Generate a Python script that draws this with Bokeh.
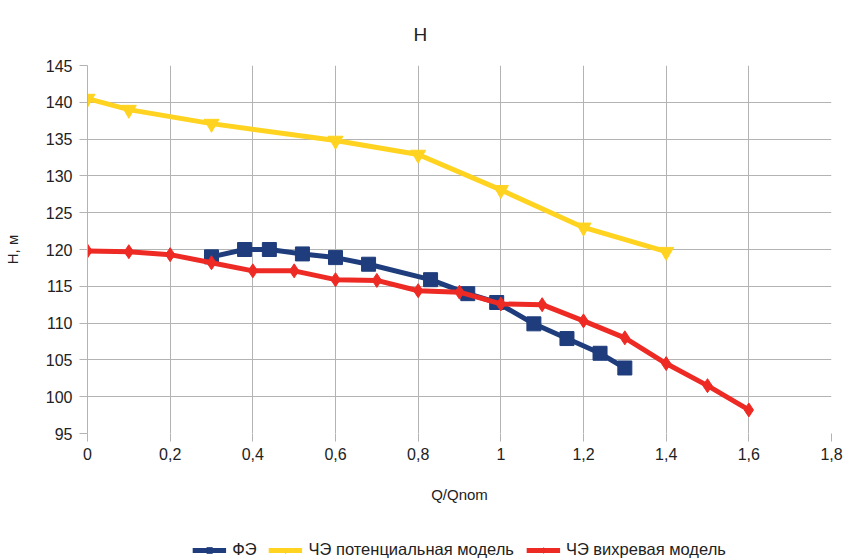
from bokeh.plotting import figure
from bokeh.layouts import column
from bokeh.models import Range1d, FixedTicker, Legend, LegendItem
from bokeh.embed import file_html
from bokeh.resources import INLINE

# Data
fe_q = [0.30, 0.38, 0.44, 0.52, 0.60, 0.68, 0.83, 0.92, 0.99, 1.08, 1.16, 1.24, 1.30]
fe_h = [119.0, 120.0, 120.0, 119.4, 118.9, 118.0, 115.9, 114.0, 112.8, 109.9, 107.9, 105.9, 103.9]

pot_q = [0.0, 0.1, 0.3, 0.6, 0.8, 1.0, 1.2, 1.4]
pot_h = [140.5, 139.0, 137.1, 134.8, 132.9, 128.1, 123.0, 119.7]

vor_q = [0.0, 0.1, 0.2, 0.3, 0.4, 0.5, 0.6, 0.7, 0.8, 0.9, 1.0, 1.1, 1.2, 1.3, 1.4, 1.5, 1.6]
vor_h = [119.8, 119.7, 119.3, 118.2, 117.1, 117.1, 115.9, 115.8, 114.4, 114.2, 112.6, 112.5, 110.3, 108.0, 104.5, 101.5, 98.2]

x_ticks = [0, 0.2, 0.4, 0.6, 0.8, 1.0, 1.2, 1.4, 1.6, 1.8]
x_tick_labels = ["0", "0,2", "0,4", "0,6", "0,8", "1", "1,2", "1,4", "1,6", "1,8"]
y_ticks = [95, 100, 105, 110, 115, 120, 125, 130, 135, 140, 145]

labels = ["ФЭ", "ЧЭ потенциальная модель", "ЧЭ вихревая модель"]
colors = ["#1f3d7c", "#ffd320", "#ee2a24"]
markers = ["square", "inverted_triangle", "diamond"]
msizes = [14, 15, 14]

FONT = "Liberation Sans"
TXT = "#222222"
GRID = "#b3b3b3"

p = figure(width=850, height=510, frame_width=744, frame_height=368,
           output_backend="svg", toolbar_location=None,
           x_range=Range1d(0, 1.8), y_range=Range1d(95, 145),
           min_border_left=87, min_border_right=19, min_border_top=65, min_border_bottom=77)
p.outline_line_color = None
p.background_fill_color = "white"

p.title.text = "H"
p.title.align = "left"
p.title.offset = 326
p.title.standoff = 42
p.title.text_font = FONT
p.title.text_font_size = "19px"
p.title.text_font_style = "normal"
p.title.text_color = TXT

p.xaxis.ticker = FixedTicker(ticks=x_ticks)
p.xaxis.major_label_overrides = {t: l for t, l in zip(x_ticks, x_tick_labels)}
p.yaxis.ticker = FixedTicker(ticks=y_ticks)
p.xgrid.ticker = FixedTicker(ticks=x_ticks)
p.ygrid.ticker = FixedTicker(ticks=y_ticks)

for ax in (p.xaxis[0], p.yaxis[0]):
    ax.axis_line_color = GRID
    ax.major_tick_line_color = GRID
    ax.major_tick_out = 8
    ax.major_tick_in = 0
    ax.minor_tick_line_color = None
    ax.major_label_text_font = FONT
    ax.major_label_text_font_size = "16px"
    ax.major_label_text_color = TXT
    ax.axis_label_text_font = FONT
    ax.axis_label_text_font_size = "15px"
    ax.axis_label_text_font_style = "normal"
    ax.axis_label_text_color = TXT

p.xaxis.axis_line_color = None
p.xaxis.major_label_standoff = 6
p.xaxis.axis_label = "Q/Qnom"
p.xaxis.axis_label_standoff = 23
p.yaxis.axis_label = "H, м"
p.yaxis.major_label_standoff = 7
p.yaxis.axis_label_standoff = 22

p.xgrid.grid_line_color = GRID
p.ygrid.grid_line_color = GRID

series = [(fe_q, fe_h), (pot_q, pot_h), (vor_q, vor_h)]
for (xs, ys), c, m, s in zip(series, colors, markers, msizes):
    p.line(xs, ys, line_color=c, line_width=5)
    p.scatter(xs, ys, marker=m, size=s, fill_color=c, line_color=c)

# Legend strip below the chart (series drawn outside its visible range, only their legend glyphs show)
pl = figure(width=850, height=50, output_backend="svg", toolbar_location=None,
            title=None, x_axis_location=None, y_axis_location=None,
            x_range=Range1d(0, 1), y_range=Range1d(0, 1), min_border=0)
pl.outline_line_color = None
pl.grid.visible = False
pl.background_fill_color = "white"

items = []
for (xs, ys), lab, c, m, s in zip(series, labels, colors, markers, msizes):
    rl = pl.line(xs, ys, line_color=c, line_width=5)
    rm = pl.scatter(xs, ys, marker=m, size=s - 2, fill_color=c, line_color=c)
    items.append(LegendItem(label=lab, renderers=[rl, rm]))

legend = Legend(items=items, orientation="horizontal", location="bottom_center")
legend.border_line_color = None
legend.background_fill_alpha = 0
legend.label_text_font = FONT
legend.label_text_font_size = "16.5px"
legend.label_text_color = TXT
legend.glyph_width = 34
legend.glyph_height = 14
legend.label_standoff = 6
legend.spacing = 12
legend.padding = 2
legend.margin = 1
pl.add_layout(legend, "center")

layout = column(p, pl)
open("out.html", "w").write(file_html(layout, INLINE))
